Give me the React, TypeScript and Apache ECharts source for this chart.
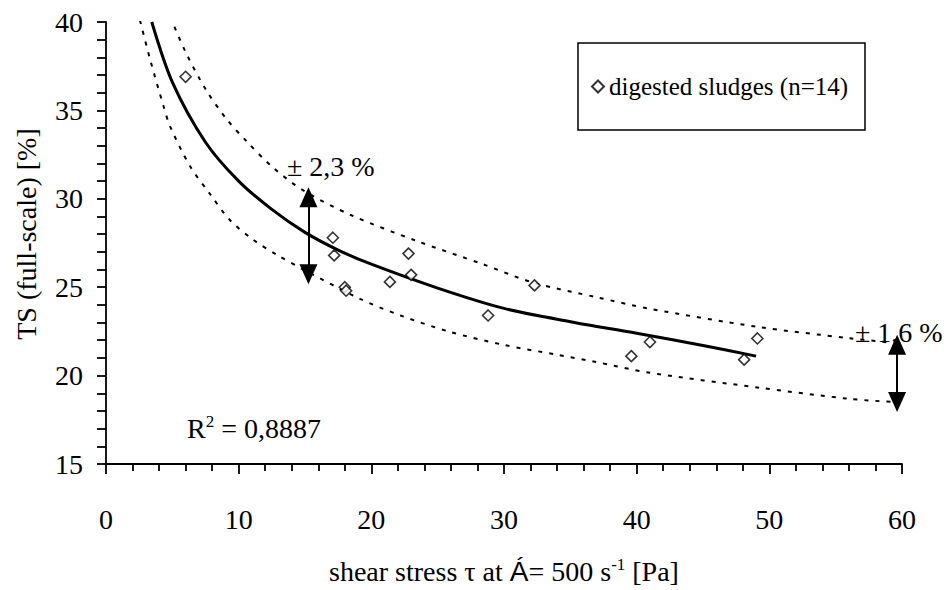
import React, { useEffect, useRef } from "react";
import * as echarts from "echarts";

// Measured points (digested sludges, n=14)
const pointX = [6.0, 17.1, 17.2, 22.8, 23.0, 21.4, 18.0, 18.1, 32.3, 28.8, 41.0, 39.6, 49.1, 48.1];
const pointY = [36.9, 27.8, 26.8, 26.9, 25.7, 25.3, 25.0, 24.8, 25.1, 23.4, 21.9, 21.1, 22.1, 20.9];

// Trend curve
const fitX = [3.45, 5, 7.5, 10, 12.5, 15, 17.5, 20, 25, 30, 35, 40, 45, 49];
const fitY = [40.0, 36.6, 33.2, 31.0, 29.4, 28.1, 27.1, 26.3, 24.95, 23.8, 23.05, 22.4, 21.7, 21.1];

// Upper confidence band (dotted)
const upperX = [4.83, 6.09, 7.59, 9.1, 10.6, 12.6, 14.9, 18.4, 23.4, 28.45, 32.2, 37.0, 41.0, 49.1, 56.1, 59.6];
const upperY = [40.3, 38.16, 36.1, 34.5, 33.25, 31.76, 30.46, 29.1, 27.62, 26.29, 25.26, 24.43, 23.78, 22.76, 22.11, 21.83];

// Lower confidence band (dotted)
const lowerX = [2.56, 3.32, 4.32, 4.83, 6.33, 7.84, 9.35, 11.1, 12.87, 14.88, 19.15, 22.2, 25.9, 29.96, 34.0, 36.75, 41.0, 49.1, 56.1, 59.6];
const lowerY = [40.1, 37.9, 35.28, 34.1, 31.85, 30.27, 28.79, 27.68, 26.84, 26.0, 24.34, 23.4, 22.48, 21.74, 21.18, 20.8, 20.16, 19.33, 18.68, 18.5];

// Double-headed arrows showing the band width
const arrowLeft = [[15.26, 30.09], [15.26, 25.73]];
const arrowRight = [[59.63, 21.74], [59.63, 18.5]];

const legendName = "digested sludges (n=14)";
const bandLeftLabel = "± 2,3 %";
const bandRightLabel = "± 1,6 %";
const r2Label = "0,8887";

const FONT = "Liberation Serif";
const SANS = "Liberation Sans";
const FS = 28;

function zip(xs: number[], ys: number[]) {
  return xs.map((x, i) => [x, ys[i]]);
}

export default function App() {
  const ref = useRef<HTMLDivElement>(null);

  useEffect(() => {
    if (!ref.current) return;
    const chart = echarts.init(ref.current, undefined, { renderer: "svg" });
    const dotted = { color: "#000", width: 2, type: [4, 7] as number[] };
    chart.setOption({
      animation: false,
      backgroundColor: "#fff",
      textStyle: { fontFamily: FONT, color: "#000" },
      grid: { left: 106, right: 47, top: 22, bottom: 119, containLabel: false },
      legend: {
        left: 591,
        top: 74,
        padding: 0,
        itemWidth: 12,
        itemHeight: 12,
        selectedMode: false,
        data: [legendName],
        textStyle: { fontFamily: FONT, fontSize: 25, color: "#000", padding: [0, 0, 0, 0] },
      },
      xAxis: {
        type: "value",
        min: 0,
        max: 60,
        interval: 10,
        splitLine: { show: false },
        axisLine: { show: true, lineStyle: { color: "#000", width: 1.8 } },
        axisTick: { show: true, length: 10, lineStyle: { color: "#000", width: 1.8 } },
        minorTick: { show: true, splitNumber: 5, length: 7, lineStyle: { color: "#000", width: 1.8 } },
        axisLabel: { fontFamily: FONT, fontSize: FS, color: "#000", margin: 41 },
        name: "{a|shear stress τ at }{b|Á}{a|= 500 s}{s|-1}{a| [Pa]}",
        nameLocation: "middle",
        nameGap: 92,
        nameTextStyle: {
          rich: {
            a: { fontFamily: FONT, fontSize: FS, color: "#000" },
            b: { fontFamily: SANS, fontSize: FS, color: "#000" },
            s: { fontFamily: FONT, fontSize: 17, color: "#000", padding: [0, 0, 13, 0] },
          },
        },
      },
      yAxis: {
        type: "value",
        min: 15,
        max: 40,
        interval: 5,
        splitLine: { show: false },
        axisLine: { show: true, lineStyle: { color: "#000", width: 1.8 } },
        axisTick: { show: true, length: 9, lineStyle: { color: "#000", width: 1.8 } },
        minorTick: { show: true, splitNumber: 5, length: 9, lineStyle: { color: "#000", width: 1.8 } },
        axisLabel: { fontFamily: FONT, fontSize: FS, color: "#000", margin: 23 },
        name: "TS (full-scale) [%]",
        nameLocation: "middle",
        nameGap: 66,
        nameTextStyle: { fontFamily: FONT, fontSize: FS, color: "#000", padding: [0, 0, 0, 18] },
      },
      series: [
        {
          name: "lower",
          type: "line",
          data: zip(lowerX, lowerY),
          smooth: 0.3,
          showSymbol: false,
          silent: true,
          lineStyle: dotted,
          z: 2,
        },
        {
          name: "upper",
          type: "line",
          data: zip(upperX, upperY),
          smooth: 0.3,
          showSymbol: false,
          silent: true,
          lineStyle: dotted,
          z: 2,
        },
        {
          name: "fit",
          type: "line",
          data: zip(fitX, fitY),
          smooth: 0.3,
          showSymbol: false,
          silent: true,
          lineStyle: { color: "#000", width: 3 },
          z: 3,
          markLine: {
            silent: true,
            symbol: ["triangle", "triangle"],
            symbolSize: [18, 20],
            label: { show: false },
            lineStyle: { color: "#000", width: 2, type: "solid" },
            itemStyle: { color: "#000" },
            data: [
              [{ coord: arrowLeft[0] }, { coord: arrowLeft[1] }],
              [{ coord: arrowRight[0] }, { coord: arrowRight[1] }],
            ],
          },
        },
        {
          name: legendName,
          type: "scatter",
          data: zip(pointX, pointY),
          symbol: "diamond",
          symbolSize: 11,
          itemStyle: { color: "#fff", borderColor: "#000", borderWidth: 1.6 },
          z: 4,
        },
      ],
      graphic: [
        {
          type: "rect",
          shape: { x: 578, y: 43, width: 287, height: 87 },
          style: { fill: "none", stroke: "#000", lineWidth: 1.5 },
          silent: true,
        },
        {
          type: "text",
          left: 287,
          top: 152,
          style: { text: bandLeftLabel, fontFamily: FONT, fontSize: FS, fill: "#000" },
        },
        {
          type: "text",
          left: 855,
          top: 318,
          style: { text: bandRightLabel, fontFamily: FONT, fontSize: FS, fill: "#000" },
        },
        {
          type: "text",
          left: 187,
          top: 413,
          style: {
            text: `{a|R}{s|2}{a| = ${r2Label}}`,
            rich: {
              a: { fontFamily: FONT, fontSize: FS, fill: "#000" },
              s: { fontFamily: FONT, fontSize: 17, fill: "#000", padding: [0, 0, 13, 0] },
            },
          },
        },
      ],
    });
    return () => chart.dispose();
  }, []);

  return <div ref={ref} style={{ width: 949, height: 590, position: "fixed", left: 0, top: 0 }} />;
}
